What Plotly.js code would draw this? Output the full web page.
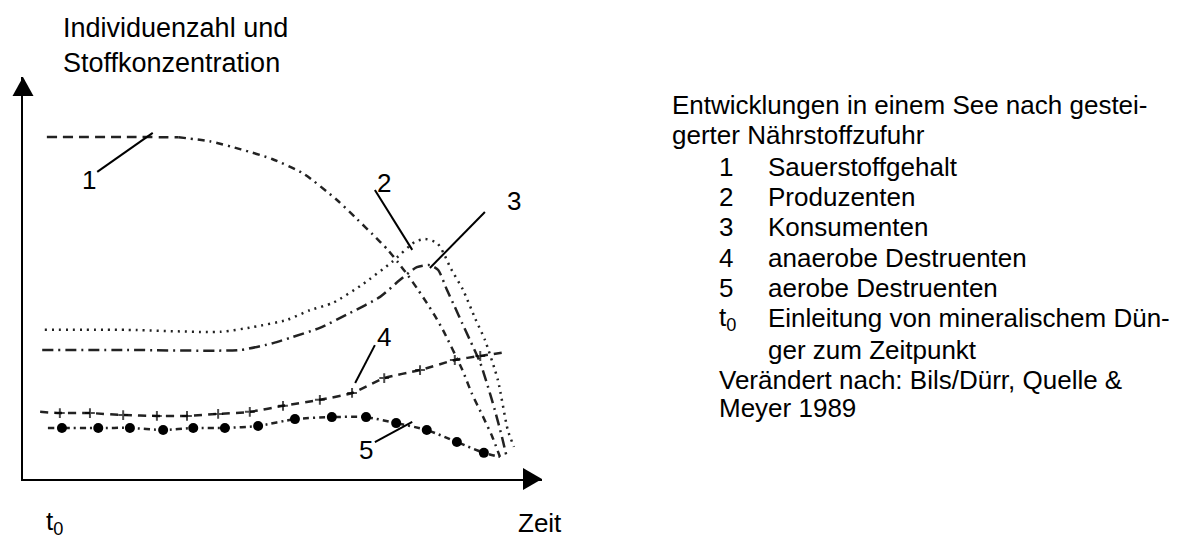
<!DOCTYPE html>
<html>
<head>
<meta charset="utf-8">
<script src="https://cdn.plot.ly/plotly-3.0.1.min.js"></script>
<style>html,body{margin:0;padding:0;background:#fff}#chart{width:1181px;height:539px}</style>
</head>
<body>
<div id="chart"></div>
<script>
// ---- data (time in arbitrary units 0..100, level in arbitrary units 0..100) ----
const zeit1 = [4.6, 20, 30, 36, 42, 48, 54, 60.5, 64.4, 67.4, 70.3, 72.3, 74.2, 76.1, 77.8, 79.4, 80.9, 84.6, 86.5, 88.6, 90.4, 91.9];
const sauerstoff = [85.1, 85.1, 85.0, 84.0, 82.0, 79.6, 76.0, 69.4, 64.6, 60.8, 57.0, 53.8, 50.6, 47.1, 43.8, 40.5, 37.1, 27.3, 21.2, 15.6, 10.6, 5.5];

const zeit2 = [4.2, 20, 38, 44.3, 50.9, 55.3, 59.7, 65.3, 71.1, 75.5, 77.5, 79.8, 81, 82.3, 84.8, 87.1, 89, 91.5, 93.4, 94.6];
const produzenten = [37.1, 37.1, 36.6, 37.8, 39.6, 42, 43.8, 48.3, 54, 59, 59.7, 58.7, 56.3, 52.7, 47, 40, 34.6, 24.6, 12.2, 8];

const zeit3 = [3.7, 20, 41.8, 48.2, 51.4, 57.2, 63, 68.8, 72.6, 75.9, 78.4, 80, 81.7, 83.2, 84.6, 86.1, 88.1, 89.6, 90.9, 92.3, 93.1];
const konsumenten = [32.1, 32.1, 32.1, 33.8, 35.1, 37.6, 41.3, 45.3, 49.5, 52.7, 53.2, 52, 47, 42.8, 38.8, 34.6, 28.9, 22.9, 17.2, 10.4, 6];

const zeit4 = [3.3, 7.1, 12.9, 19.3, 25.8, 31.6, 37.6, 43.7, 50.1, 57.2, 63.4, 69.6, 76.5, 83.2, 88.1, 93.4];
const anaerob = [16.7, 16.4, 16.4, 15.9, 15.7, 15.7, 16.2, 16.7, 18.2, 19.7, 21.4, 25.1, 27.1, 29.6, 30.6, 31.6];

const zeit5 = [4.8, 7.5, 14.5, 20.6, 27, 32.8, 38.9, 45.3, 52.4, 59.5, 66.1, 71.9, 77.8, 83.6, 88.8, 91.9];
const aerob = [12.7, 12.7, 12.7, 12.7, 12.2, 12.7, 12.7, 13.2, 14.9, 15.4, 15.4, 13.9, 12.2, 9.2, 6.5, 5.5];

// curve labels and where their leader lines touch the curves
const curveLabels = ['1', '2', '3', '4', '5'];
const labelPos = [[12.7, 74.4], [69.6, 73.6], [94.6, 69.2], [69.6, 35.3], [66.1, 7.2]];
const leaderStart = [[14.3, 76.4], [67.8, 71.9], [89.0, 66.4], [67.8, 33.3], [67.8, 9.2]];
const leaderEnd = [[25.0, 86.1], [75.0, 57.0], [78.4, 52.5], [64.0, 23.9], [75.0, 14.2]];

// axis texts
const yTitle = ['Individuenzahl und', 'Stoffkonzentration'];
const xStart = 't<sub>0</sub>';
const xEnd = 'Zeit';

// side legend text
const legendHead = ['Entwicklungen in einem See nach gestei-', 'gerter Nährstoffzufuhr'];
const legendNums = ['1', '2', '3', '4', '5', 't<sub>0</sub>'];
const legendTexts = ['Sauerstoffgehalt', 'Produzenten', 'Konsumenten', 'anaerobe Destruenten', 'aerobe Destruenten', 'Einleitung von mineralischem Dün-'];
const legendCont = 'ger zum Zeitpunkt';
const legendSource = ['Verändert nach: Bils/Dürr, Quelle &', 'Meyer 1989'];

// ---- layout helpers (pixel -> paper) ----
const L = 23, R = 542, T = 77, B = 479, FW = 1181, FH = 539;
const W = R - L, H = B - T;
const px = v => (v - L) / W;
const py = v => (B - v) / H;
const FONT = 'Liberation Sans, Arial, Helvetica, sans-serif';
const INK = '#222';

const traces = [];
// curve 1: long dashes at first, then dash-dot
traces.push({x: zeit1.slice(0, 3), y: sauerstoff.slice(0, 3), mode: 'lines',
  line: {color: INK, width: 2.5, dash: '10px,6px', shape: 'spline', smoothing: 0.6}, cliponaxis: false});
traces.push({x: zeit1.slice(2), y: sauerstoff.slice(2), mode: 'lines',
  line: {color: INK, width: 2.5, dash: '7px,5px,2px,5px', shape: 'spline', smoothing: 0.6}, cliponaxis: false});
// curve 2: dotted
traces.push({x: zeit2, y: produzenten, mode: 'lines',
  line: {color: INK, width: 2.5, dash: '2px,5px', shape: 'spline', smoothing: 0.6}, cliponaxis: false});
// curve 3: dash-dot
traces.push({x: zeit3, y: konsumenten, mode: 'lines',
  line: {color: INK, width: 2.5, dash: '11px,5px,2px,5px', shape: 'spline', smoothing: 0.6}, cliponaxis: false});
// curve 4: dashes with small crosses
traces.push({x: zeit4, y: anaerob, mode: 'lines+markers',
  line: {color: INK, width: 2.5, dash: '8px,6px', shape: 'spline', smoothing: 0.6},
  marker: {symbol: 'cross-thin', color: '#000', size: zeit4.map((_, i) => (i === 0 || i === zeit4.length - 1) ? 0 : 7),
           line: {color: '#000', width: 2}}, cliponaxis: false});
// curve 5: big dots with dashes
traces.push({x: zeit5, y: aerob, mode: 'lines+markers',
  line: {color: INK, width: 2.5, dash: '6px,4px,2px,4px', shape: 'spline', smoothing: 0.6},
  marker: {symbol: 'circle', color: '#000', opacity: 1, size: zeit5.map((_, i) => (i === 0 || i === zeit5.length - 1) ? 0 : 10),
           line: {color: '#000', width: 0}},
  cliponaxis: false});

const shapes = [];
// axis arrow heads
shapes.push({type: 'path', xref: 'paper', yref: 'paper', fillcolor: '#000', line: {width: 0},
  path: `M ${px(23)} ${py(77)} L ${px(12.5)} ${py(96)} L ${px(33.5)} ${py(96)} Z`});
shapes.push({type: 'path', xref: 'paper', yref: 'paper', fillcolor: '#000', line: {width: 0},
  path: `M ${px(542)} ${py(479)} L ${px(523)} ${py(468)} L ${px(523)} ${py(490)} Z`});
// leader lines
curveLabels.forEach((_, i) => {
  shapes.push({type: 'line', xref: 'x', yref: 'y', x0: leaderStart[i][0], y0: leaderStart[i][1],
    x1: leaderEnd[i][0], y1: leaderEnd[i][1], line: {color: '#000', width: 2}});
});

const annotations = [];
const txt = (text, x, y, size, xanchor, xref, yref) => ({
  text, x, y, xref: xref || 'paper', yref: yref || 'paper', showarrow: false,
  xanchor: xanchor || 'left', yanchor: 'middle', font: {family: FONT, size, color: '#000'}, align: 'left'
});
curveLabels.forEach((lab, i) => annotations.push(txt(lab, labelPos[i][0], labelPos[i][1], 26, 'center', 'x', 'y')));
annotations.push(txt(yTitle[0], px(61), py(28), 27));
annotations.push(txt(yTitle[1], px(61), py(63), 27));
annotations.push(txt(xStart, px(44), py(522), 26));
annotations.push(txt(xEnd, px(516), py(523), 26));

const lineY = [105, 135, 167, 197, 227, 258, 288, 318, 350, 380, 408];
annotations.push(txt(legendHead[0], px(670), py(lineY[0]), 26));
annotations.push(txt(legendHead[1], px(670), py(lineY[1]), 26));
legendNums.forEach((n, i) => {
  annotations.push(txt(n, px(717), py(lineY[2 + i]), 26));
  annotations.push(txt(legendTexts[i], px(766), py(lineY[2 + i]), 26));
});
annotations.push(txt(legendCont, px(766), py(lineY[8]), 26));
annotations.push(txt(legendSource[0], px(717), py(lineY[9]), 26));
annotations.push(txt(legendSource[1], px(717), py(lineY[10]), 26));

const axisStyle = {range: [0, 100], showline: true, linecolor: '#000', linewidth: 2, showgrid: false,
  zeroline: false, showticklabels: false, ticks: '', fixedrange: true};

const layout = {
  width: FW, height: FH,
  margin: {l: L, r: FW - R, t: T, b: FH - B, pad: 0},
  paper_bgcolor: '#fff', plot_bgcolor: '#fff', showlegend: false,
  xaxis: Object.assign({}, axisStyle),
  yaxis: Object.assign({}, axisStyle),
  shapes, annotations
};

Plotly.newPlot('chart', traces, layout, {displayModeBar: false, staticPlot: true});
</script>
</body>
</html>
